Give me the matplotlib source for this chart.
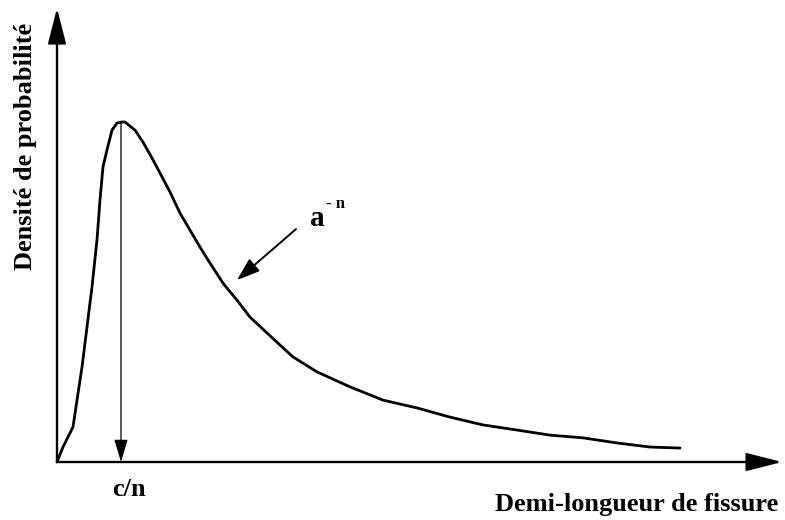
import matplotlib
matplotlib.use('Agg')
import matplotlib.pyplot as plt

# Courbe de densité (unités arbitraires, pic normalisé à 1)
crack_length = [0.0, 0.06, 0.16, 0.20, 0.25, 0.30, 0.35, 0.40, 0.43, 0.46,
                0.50, 0.55, 0.60, 0.65, 0.68, 0.78, 0.86, 0.95, 1.03, 1.13,
                1.23, 1.33, 1.43, 1.53, 1.66, 1.80, 1.93, 2.23, 2.36, 2.60,
                2.93, 3.26, 3.60, 3.93, 4.26, 4.60, 4.93, 5.26, 5.60, 5.93,
                6.23]
density = [0.0, 0.044, 0.103, 0.182, 0.279, 0.397, 0.515, 0.653, 0.771, 0.868,
           0.918, 0.976, 0.997, 1.0, 1.0, 0.976, 0.941, 0.894, 0.850, 0.794,
           0.732, 0.682, 0.632, 0.585, 0.526, 0.476, 0.426, 0.344, 0.309, 0.265,
           0.221, 0.182, 0.159, 0.132, 0.109, 0.094, 0.079, 0.071, 0.056, 0.044,
           0.041]

peak_x = 0.64
peak_y = 1.0
x_axis_end = 7.25
y_axis_end = 1.335

FONT = 'Liberation Serif'

fig = plt.figure(figsize=(7.85, 5.2), dpi=100)
ax = fig.add_axes([0, 0, 1, 1])
ax.set_xlim(-0.57, 7.28)
ax.set_ylim(-0.1706, 1.3588)
ax.axis('off')

ax.plot(crack_length, density, color='black', lw=2.0,
        solid_capstyle='round', solid_joinstyle='round')

# axes avec flèches
axis_arrow = dict(arrowstyle='-|>,head_length=1.1,head_width=0.28',
                  mutation_scale=20, color='black', lw=1.7, shrinkA=0, shrinkB=0)
ax.annotate('', xy=(x_axis_end, 0), xytext=(0, 0), arrowprops=axis_arrow)
ax.annotate('', xy=(0, y_axis_end), xytext=(0, 0), arrowprops=axis_arrow)

# flèche verticale du pic
ax.annotate('', xy=(peak_x, 0), xytext=(peak_x, peak_y),
            arrowprops=dict(arrowstyle='-|>,head_length=1.0,head_width=0.3',
                            mutation_scale=14, color='black', lw=0.9,
                            shrinkA=0, shrinkB=0))

# flèche vers la loi a^-n
ax.annotate('', xy=(1.80, 0.535), xytext=(2.39, 0.685),
            arrowprops=dict(arrowstyle='-|>,head_length=1.0,head_width=0.35',
                            mutation_scale=14, color='black', lw=1.4,
                            shrinkA=0, shrinkB=0))
ax.text(2.60, 0.715, 'a', family=FONT, weight='bold', fontsize=21,
        ha='center', va='center')
ax.text(2.79, 0.758, '- n', family=FONT, weight='bold', fontsize=12,
        ha='center', va='center')

ax.text(0.715, -0.080, 'c/n', family=FONT, weight='bold', fontsize=19,
        ha='center', va='center')
ax.text(5.80, -0.124, 'Demi-longueur de fissure', family=FONT, weight='bold',
        fontsize=19, ha='center', va='center')
ax.text(-0.31, 0.929, 'Densité de probabilité', family=FONT, weight='bold',
        fontsize=19, ha='center', va='center', rotation=90)

fig.savefig('out.png', dpi=100)
